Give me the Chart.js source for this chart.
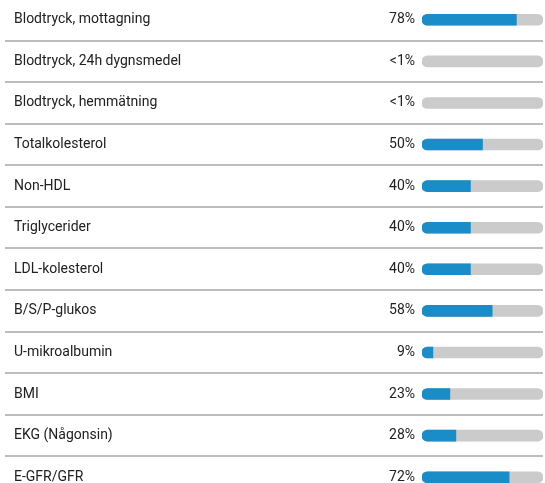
<!DOCTYPE html>
<html>
<head>
<meta charset="utf-8">
<script src="https://cdn.jsdelivr.net/npm/chart.js@4"></script>
<style>
    html, body { margin: 0; padding: 0; background: #fff; overflow: hidden; }
    #wrap { position: absolute; left: 0; top: -1.5px; width: 545px; height: 499px; }
</style>
</head>
<body>
<div id="wrap"><canvas id="goalChart"></canvas></div>
<script>
const categories = [
    'Blodtryck, mottagning',
    'Blodtryck, 24h dygnsmedel',
    'Blodtryck, hemmätning',
    'Totalkolesterol',
    'Non-HDL',
    'Triglycerider',
    'LDL-kolesterol',
    'B/S/P-glukos',
    'U-mikroalbumin',
    'BMI',
    'EKG (Någonsin)',
    'E-GFR/GFR'
];
// percent of patients, "<1%" rows kept as 0
const percentages = [78, 0, 0, 50, 40, 40, 40, 58, 9, 23, 28, 72];
const percentText = ['78%', '<1%', '<1%', '50%', '40%', '40%', '40%', '58%', '9%', '23%', '28%', '72%'];
const fullScale = categories.map(() => 100);

const BLUE = '#1a8cc7';
const TRACK = '#cbcbcb';

// draws the percent text just left of each bar
const percentLabels = {
    id: 'percentLabels',
    afterDatasetsDraw(chart) {
        const ctx = chart.ctx;
        const meta = chart.getDatasetMeta(1);
        ctx.save();
        ctx.font = '14px Roboto';
        ctx.fillStyle = '#212121';
        ctx.textAlign = 'right';
        ctx.textBaseline = 'middle';
        meta.data.forEach((bar, i) => {
            ctx.fillText(percentText[i], chart.chartArea.left - 7, bar.y);
        });
        ctx.restore();
    }
};

const ctx = document.getElementById('goalChart').getContext('2d');

const myChart = new Chart(ctx, {
    type: 'bar',
    data: {
        labels: categories,
        datasets: [{
            // zero rows get no blue mark at all
            data: percentages.map(v => v > 0 ? v : null),
            backgroundColor: BLUE,
            grouped: false,
            barThickness: 11,
            borderSkipped: false,
            borderRadius: { topLeft: 5.5, bottomLeft: 5.5, topRight: 0, bottomRight: 0 }
        }, {
            data: fullScale,
            backgroundColor: TRACK,
            grouped: false,
            barThickness: 11,
            borderSkipped: false,
            borderRadius: 5.5
        }]
    },
    plugins: [percentLabels],
    options: {
        indexAxis: 'y',
        responsive: true,
        maintainAspectRatio: false,
        animation: false,
        layout: { padding: { left: 14, right: 2, top: 0, bottom: 0 } },
        plugins: {
            legend: { display: false },
            tooltip: { enabled: false }
        },
        scales: {
            x: {
                display: false,
                min: 0,
                max: 100
            },
            y: {
                border: { display: false },
                grid: {
                    offset: true,
                    color: '#bdbdbd',
                    lineWidth: 2,
                    tickLength: 417
                },
                ticks: {
                    crossAlign: 'far',
                    padding: 0,
                    color: '#212121',
                    font: { family: 'Roboto', size: 14 }
                },
                afterFit(scale) {
                    scale.width = 408;
                    scale.paddingTop = 0;
                    scale.paddingBottom = 0;
                }
            }
        }
    }
});
</script>
</body>
</html>
